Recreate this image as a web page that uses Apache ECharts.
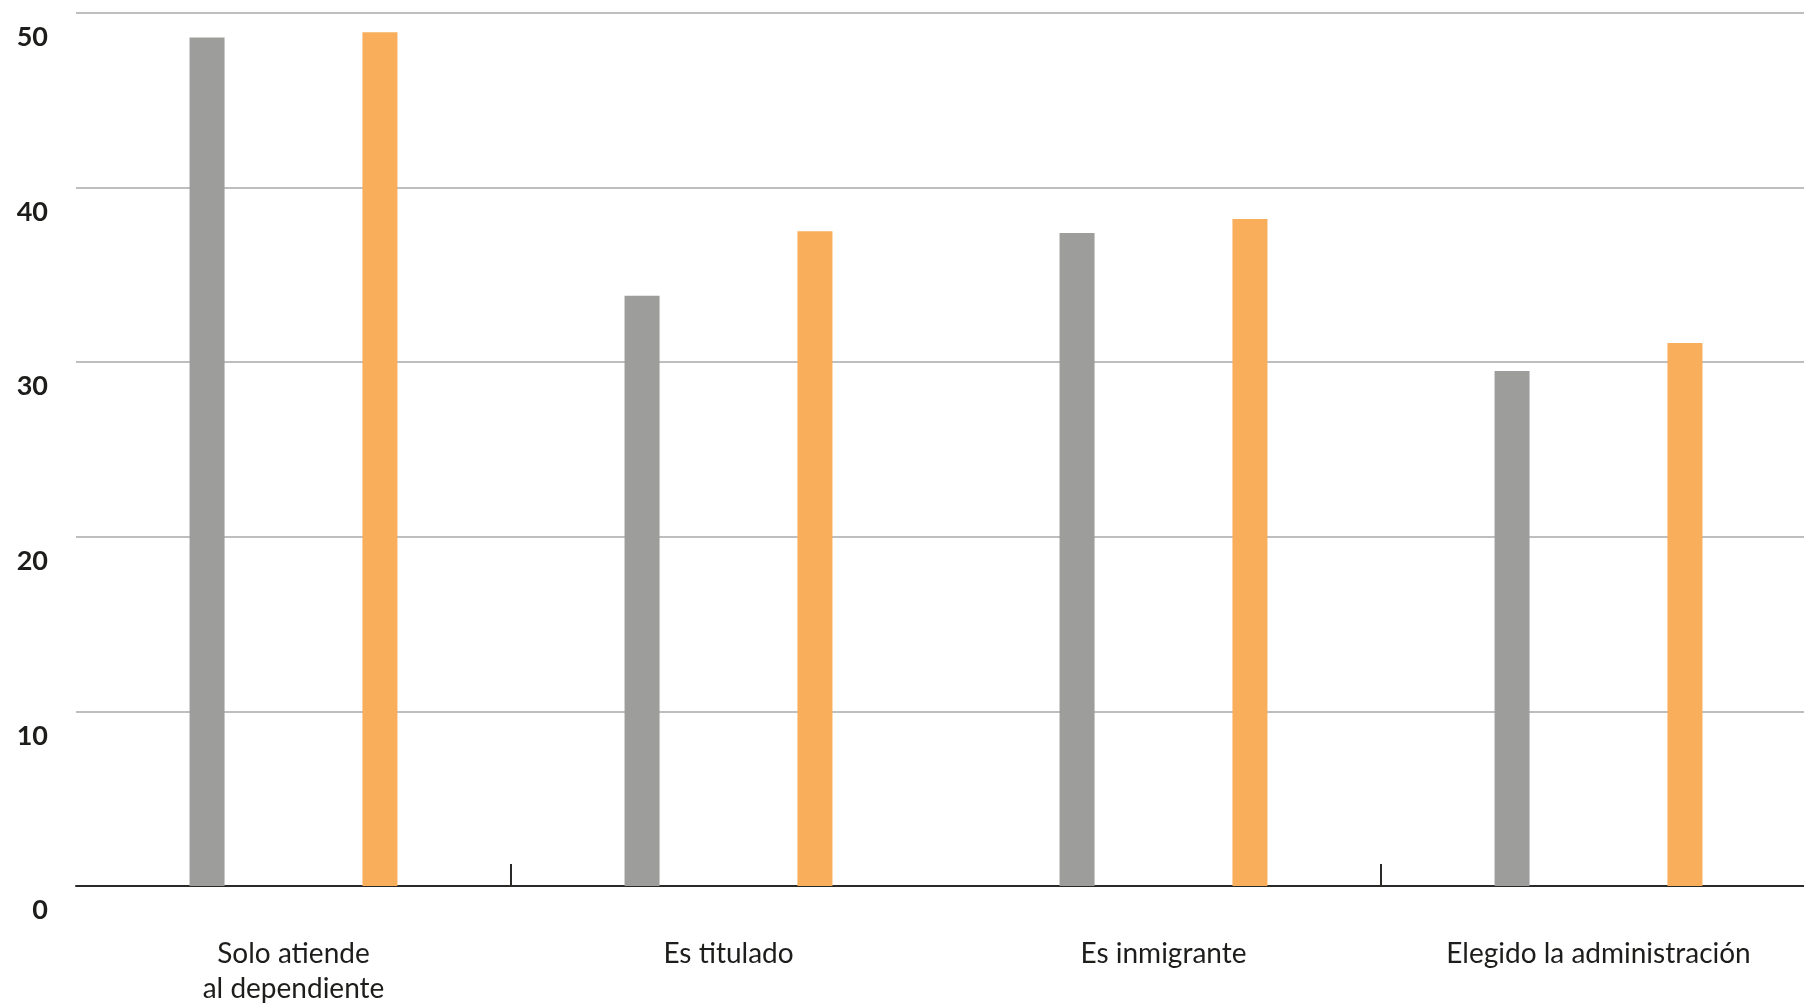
<!DOCTYPE html>
<html>
<head>
<meta charset="utf-8">
<script src="https://cdn.jsdelivr.net/npm/echarts@6/dist/echarts.min.js"></script>
<style>
  html, body { margin: 0; padding: 0; background: #ffffff; overflow: hidden; width: 1804px; height: 1006px; }
  #chart { width: 1816px; height: 1006px; }
</style>
</head>
<body>
<div id="chart"></div>
<script>
const categories = ['Solo atiende\nal dependiente', 'Es titulado', 'Es inmigrante', 'Elegido la administración'];
const seriesGray = [48.6, 33.8, 37.4, 29.5];
const seriesOrange = [48.9, 37.5, 38.2, 31.1];
const yTicks = [0, 10, 20, 30, 40, 50];

const chart = echarts.init(document.getElementById('chart'), null, { renderer: 'canvas' });
const fontFamily = 'Lato, "Open Sans", sans-serif';

chart.setOption({
  animation: false,
  backgroundColor: '#ffffff',
  grid: { left: 76, right: 0, top: 13, bottom: 117, containLabel: false },
  xAxis: {
    type: 'category',
    data: categories,
    boundaryGap: true,
    axisLine: { show: true, lineStyle: { color: '#2b2a29', width: 2 } },
    axisTick: {
      show: true,
      inside: true,
      length: 22,
      lineStyle: { color: '#2b2a29', width: 2 },
      interval: function (index) { return index === 1 || index === 3; }
    },
    axisLabel: {
      interval: 0,
      color: '#1d1d1b',
      fontFamily: fontFamily,
      fontSize: 28,
      lineHeight: 35,
      margin: 50
    },
    splitLine: { show: false }
  },
  yAxis: {
    type: 'value',
    min: yTicks[0],
    max: yTicks[yTicks.length - 1],
    interval: yTicks[1] - yTicks[0],
    axisLine: { show: false },
    axisTick: { show: false },
    axisLabel: {
      color: '#1d1d1b',
      fontFamily: fontFamily,
      fontWeight: 'bold',
      fontSize: 27,
      margin: 28,
      verticalAlign: 'top',
      padding: [11, 0, 0, 0]
    },
    splitLine: { show: true, lineStyle: { color: '#a8a8a8', width: 1.5 } }
  },
  series: [
    {
      name: 'Serie 1',
      type: 'bar',
      data: seriesGray,
      barWidth: 35,
      barGap: '394%',
      itemStyle: { color: '#9d9d9c' }
    },
    {
      name: 'Serie 2',
      type: 'bar',
      data: seriesOrange,
      barWidth: 35,
      barGap: '394%',
      itemStyle: { color: '#f9ae5c' }
    }
  ]
});
</script>
</body>
</html>
